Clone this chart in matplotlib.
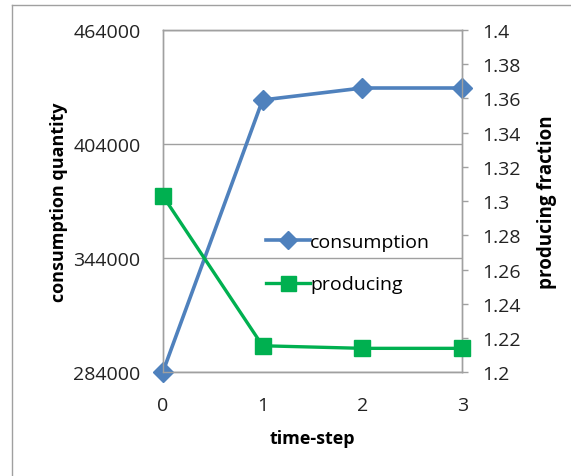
import matplotlib
matplotlib.use("Agg")
import matplotlib.pyplot as plt
from matplotlib.lines import Line2D

plt.rcParams['font.family'] = ['Open Sans', 'DejaVu Sans']

time_steps = [0, 1, 2, 3]
consumption = [284000, 427200, 433500, 433500]
producing = [1.3032, 1.2155, 1.2140, 1.2140]

cons_ticks = [284000, 344000, 404000, 464000]
prod_ticks = [1.2, 1.22, 1.24, 1.26, 1.28, 1.3, 1.32, 1.34, 1.36, 1.38, 1.4]
prod_labels = ['1.2', '1.22', '1.24', '1.26', '1.28', '1.3', '1.32', '1.34', '1.36', '1.38', '1.4']

blue = '#4F81BD'
green = '#00B050'
frame_gray = '#A0A0A0'
text_col = '#222222'

fig = plt.figure(figsize=(5.71, 4.77), dpi=100)
ax = fig.add_axes([0.285, 0.2174, 0.5246, 0.7176])
ax2 = ax.twinx()

l1, = ax.plot(time_steps, consumption, color=blue, lw=2.6, marker='D',
              markersize=10, clip_on=False, zorder=3, label='consumption')
l2, = ax2.plot(time_steps, producing, color=green, lw=2.4, marker='s',
               markersize=12, clip_on=False, zorder=3, label='producing')

ax.set_xlim(0, 3)
ax.set_ylim(284000, 464000)
ax2.set_ylim(1.2, 1.4)

ax.set_xticks(time_steps)
ax.set_yticks(cons_ticks)
ax.set_yticklabels([str(v) for v in cons_ticks])
ax2.set_yticks(prod_ticks)
ax2.set_yticklabels(prod_labels)

ax.yaxis.grid(True, color=frame_gray, lw=1)
ax.set_axisbelow(True)

for a in (ax, ax2):
    for s in a.spines.values():
        s.set_color(frame_gray)
        s.set_linewidth(1)

ax.tick_params(axis='x', length=0, pad=17, labelsize=14, colors=text_col)
ax.tick_params(axis='y', length=0, pad=16, labelsize=14, colors=text_col)
ax2.tick_params(axis='y', length=4.3, width=1, color=frame_gray, pad=10,
                labelsize=14, labelcolor=text_col)

ax.set_xlabel('time-step', fontsize=13, fontweight='bold', labelpad=11)
ax.set_ylabel('consumption quantity', fontsize=13, fontweight='bold', labelpad=4)
ax2.set_ylabel('producing fraction', fontsize=13.5, fontweight='bold', labelpad=12)

ax2.legend(handles=[l1, l2], loc='upper left', bbox_to_anchor=(0.285, 0.458),
           frameon=False, fontsize=14, handlelength=2.3, handletextpad=0.0,
           labelspacing=1.25, markerscale=0.9)

# chart border, top and left edges only
fig.add_artist(Line2D([12 / 571, 1], [1 - 6 / 477, 1 - 6 / 477], color=frame_gray, lw=1))
fig.add_artist(Line2D([12 / 571, 12 / 571], [0, 1 - 6 / 477], color=frame_gray, lw=1))

fig.savefig('out.png', dpi=100)
